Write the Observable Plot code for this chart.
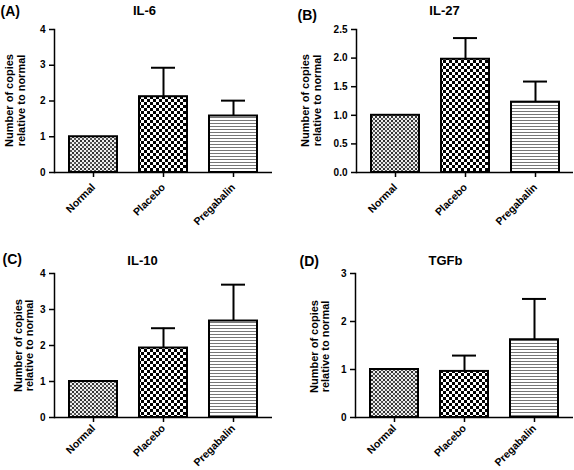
<!DOCTYPE html>
<html>
<head>
<meta charset="utf-8">
<script src="https://cdn.jsdelivr.net/npm/d3@7"></script>
<script src="https://cdn.jsdelivr.net/npm/@observablehq/plot@0.6"></script>
<style>
  html, body { margin: 0; padding: 0; background: #fff; }
  #chart { position: relative; width: 574px; height: 470px; }
  #chart .panel { position: absolute; }
</style>
</head>
<body>
<svg width="0" height="0" style="position:absolute">
  <defs>
    <pattern id="patNormal" width="4" height="4" patternUnits="userSpaceOnUse">
      <rect width="4" height="4" fill="#eeeeee"></rect>
      <rect x="0" y="0" width="2" height="2" fill="#333"></rect>
      <rect x="2" y="2" width="2" height="2" fill="#555"></rect>
    </pattern>
    <pattern id="patPlacebo" width="6" height="6" patternUnits="userSpaceOnUse">
      <rect width="6" height="6" fill="#fff"></rect>
      <rect x="0" y="0" width="3" height="3" fill="#000"></rect>
      <rect x="3" y="3" width="3" height="3" fill="#000"></rect>
    </pattern>
    <pattern id="patPregabalin" width="3" height="3" patternUnits="userSpaceOnUse">
      <rect width="3" height="3" fill="#fff"></rect>
      <rect x="0" y="0" width="3" height="1" fill="#777"></rect>
    </pattern>
  </defs>
</svg>
<div id="chart"></div>
<script>
const categories = ["Normal", "Placebo", "Pregabalin"];
const fills = ["url(#patNormal)", "url(#patPlacebo)", "url(#patPregabalin)"];

const il6Mean = [1.0, 2.12, 1.58];
const il6Upper = [null, 2.93, 2.01];
const il27Mean = [1.0, 1.98, 1.23];
const il27Upper = [null, 2.35, 1.59];
const il10Mean = [1.0, 1.93, 2.68];
const il10Upper = [null, 2.48, 3.69];
const tgfbMean = [1.0, 0.96, 1.62];
const tgfbUpper = [null, 1.29, 2.47];

const il6Ticks = [0, 1, 2, 3, 4];
const il27Ticks = [0, 0.5, 1.0, 1.5, 2.0, 2.5];
const il10Ticks = [0, 1, 2, 3, 4];
const tgfbTicks = [0, 1, 2, 3];

const yLabel = "Number of copies\nrelative to normal";

const panels = [
  {letter: "(A)", title: "IL-6", mean: il6Mean, upper: il6Upper, ticks: il6Ticks, fmt: d3.format("d"),
   left: 0, top: 0, ml: 54, mr: 15, mt: 29, mb: 63, xpad: 8,
   letterPos: [0, 11], titlePos: [144, 10], labelPos: [15, 100]},
  {letter: "(B)", title: "IL-27", mean: il27Mean, upper: il27Upper, ticks: il27Ticks, fmt: d3.format(".1f"),
   left: 287, top: 0, ml: 69, mr: 1, mt: 29, mb: 63, xpad: 8,
   letterPos: [10, 15], titlePos: [157, 10], labelPos: [24, 100]},
  {letter: "(C)", title: "IL-10", mean: il10Mean, upper: il10Upper, ticks: il10Ticks, fmt: d3.format("d"),
   left: 0, top: 235, ml: 54, mr: 15, mt: 38, mb: 53, xpad: 4,
   letterPos: [2, 24], titlePos: [142, 25], labelPos: [23.5, 110]},
  {letter: "(D)", title: "TGFb", mean: tgfbMean, upper: tgfbUpper, ticks: tgfbTicks, fmt: d3.format("d"),
   left: 287, top: 235, ml: 68, mr: 1, mt: 38, mb: 53, xpad: 4,
   letterPos: [12, 26], titlePos: [158, 25], labelPos: [32.5, 111]}
];

const chart = document.getElementById("chart");

for (const p of panels) {
  const data = categories.map((c, i) => ({group: c, mean: p.mean[i], upper: p.upper[i], fill: fills[i]}));
  const ymax = p.ticks[p.ticks.length - 1];
  const svg = Plot.plot({
    width: 287,
    height: 235,
    marginLeft: p.ml,
    marginRight: p.mr,
    marginTop: p.mt,
    marginBottom: p.mb,
    style: {fontFamily: "'Liberation Sans', Arial, sans-serif", fontWeight: "bold", fontSize: "10px", color: "#000", background: "#fff", overflow: "visible"},
    x: {domain: categories, paddingInner: 0.32, paddingOuter: 0.2},
    y: {domain: [0, ymax]},
    color: {type: "identity"},
    marks: [
      Plot.barY(data, {x: "group", y: "mean", fill: "fill", stroke: "#000", strokeWidth: 2}),
      Plot.ruleX(data, {x: "group", y1: "mean", y2: "upper", stroke: "#000", strokeWidth: 2}),
      Plot.tickY(data, {x: "group", y: "upper", stroke: "#000", strokeWidth: 2, insetLeft: 12, insetRight: 12}),
      Plot.axisY({ticks: p.ticks, tickFormat: p.fmt, tickSize: 5, tickPadding: 4, label: null, fontSize: 10, fontWeight: "bold", strokeWidth: 1.5}),
      Plot.axisX({tickRotate: -45, tickSize: 5, tickPadding: p.xpad, label: null, fontSize: 10.5, fontWeight: "bold", strokeWidth: 1.5}),
      Plot.frame({anchor: "left", strokeWidth: 1.5}),
      Plot.ruleY([0], {strokeWidth: 1.5}),
      Plot.text([p.letter], {frameAnchor: "top-left", dx: p.letterPos[0] - p.ml, dy: p.letterPos[1] - p.mt,
        textAnchor: "start", lineAnchor: "middle", fontSize: 14, fontWeight: "bold", fill: "#000"}),
      Plot.text([p.title], {frameAnchor: "top-left", dx: p.titlePos[0] - p.ml, dy: p.titlePos[1] - p.mt,
        textAnchor: "middle", lineAnchor: "middle", fontSize: 13, fontWeight: "bold", fill: "#000"}),
      Plot.text([yLabel], {frameAnchor: "top-left", dx: p.labelPos[0] - p.ml, dy: p.labelPos[1] - p.mt,
        rotate: -90, textAnchor: "middle", lineAnchor: "middle", lineHeight: 1.05, fontSize: 11, fontWeight: "bold", fill: "#000"})
    ]
  });
  svg.classList.add("panel");
  svg.style.left = p.left + "px";
  svg.style.top = p.top + "px";
  chart.appendChild(svg);
}
</script>
</body>
</html>
